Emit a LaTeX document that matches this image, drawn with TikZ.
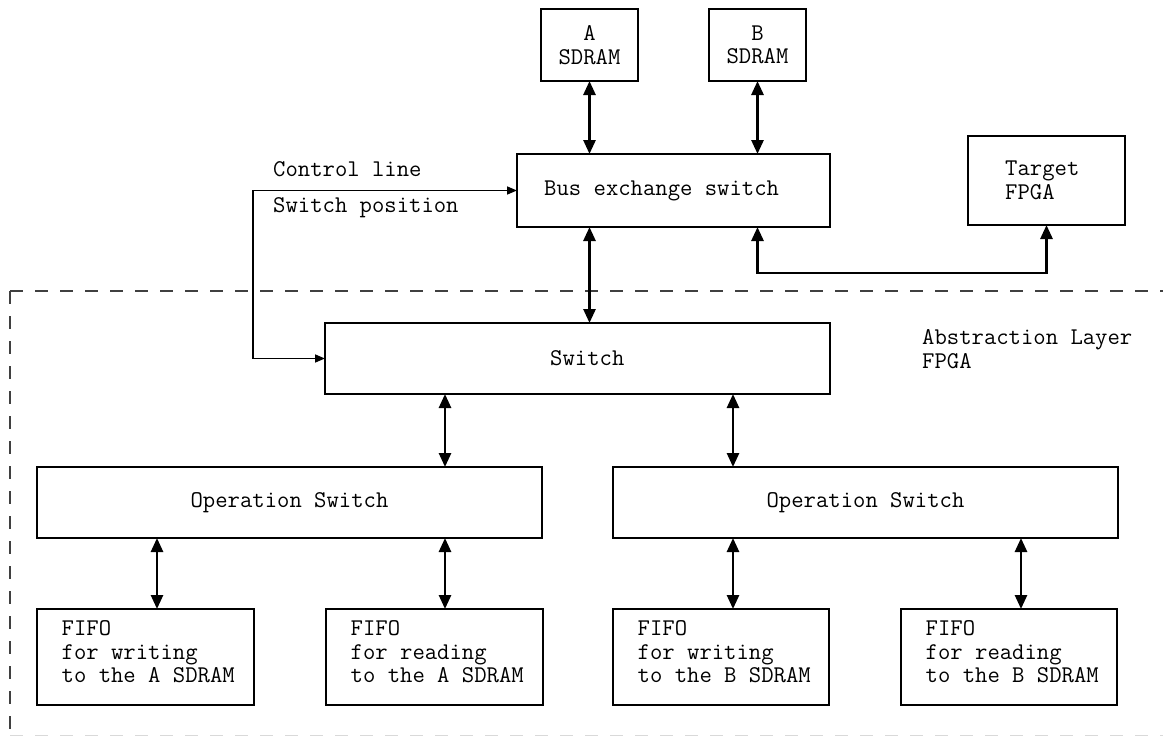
\documentclass[tikz,border=0pt]{standalone}
\usepackage{fontspec}
\usetikzlibrary{arrows.meta}
\begin{document}
\begin{tikzpicture}[x=1pt, y=-1pt,
  font=\fontsize{24}{23.5}\selectfont\ttfamily,
  blk/.style={draw=black, line width=1.3pt, inner sep=0pt, outer sep=0pt, align=center},
  intext/.style={inner sep=0pt, align=left, anchor=west},
  note/.style={inner sep=0pt},
  datalink/.style={line width=2.7pt, >={Triangle[length=14pt,width=12pt]}, <->},
  ctrllink/.style={line width=1.5pt, >={Triangle[length=10pt,width=8pt]}, <->},
  frame/.style={draw=black!75, line width=1.3pt, dash pattern=on 13pt off 12pt}
]
\clip (0,0) rectangle (1163,736);

% boundary of the abstraction layer FPGA
\draw[frame] (10,291) -- (1175,291);
\draw[frame] (10,291) -- (10,736);
\draw[frame, draw=black!15] (10,735.9) -- (1175,735.9);

% memories and the bus exchange switch
\node[blk, minimum width=97, minimum height=72] (asd) at (589.5,45) {A\\SDRAM};
\node[blk, minimum width=97, minimum height=72] (bsd) at (757.5,45) {B\\SDRAM};
\node[blk, minimum width=313, minimum height=73,
      label={[intext, xshift=27pt]west:Bus exchange switch}] (bus) at (673.5,190.5) {};
\node[blk, minimum width=157, minimum height=89,
      label={[intext, xshift=37pt]west:{Target\\FPGA}}] (tgt) at (1046.5,180.5) {};

% inside the abstraction layer
\node[blk, minimum width=505, minimum height=71,
      label={[intext, xshift=225pt]west:Switch}] (sw) at (577.5,358.5) {};
\node[blk, minimum width=505, minimum height=71] (opa) at (289.5,502.5) {Operation Switch};
\node[blk, minimum width=505, minimum height=71] (opb) at (865.5,502.5) {Operation Switch};

\node[blk, minimum width=217, minimum height=96,
      label={[intext, xshift=24.5pt, yshift=5pt]west:{FIFO\\for writing\\to the A SDRAM}}] (fwa) at (145.5,657) {};
\node[blk, minimum width=217, minimum height=96,
      label={[intext, xshift=24.5pt, yshift=5pt]west:{FIFO\\for reading\\to the A SDRAM}}] (fra) at (434.5,657) {};
\node[blk, minimum width=216, minimum height=96,
      label={[intext, xshift=24.5pt, yshift=5pt]west:{FIFO\\for writing\\to the B SDRAM}}] (fwb) at (721,657) {};
\node[blk, minimum width=216, minimum height=96,
      label={[intext, xshift=24.5pt, yshift=5pt]west:{FIFO\\for reading\\to the B SDRAM}}] (frb) at (1009,657) {};

% free texts
\node[note, anchor=base west] (ctl) at (273,176.5) {Control line};
\node[note, anchor=base west] (pos) at (273,212.5) {Switch position};
\node[note, anchor=north west, align=left] (layer) at (922,329.5) {Abstraction Layer\\FPGA};

% columns of the vertical links
\coordinate (k1) at (157,0);
\coordinate (k2) at (445,0);
\coordinate (k3) at (733,0);
\coordinate (k4) at (1021,0);
\coordinate (kc) at (253,0);

% data links
\draw[datalink] (asd.south) -- (asd.south |- bus.north);
\draw[datalink] (bsd.south) -- (bsd.south |- bus.north);
\draw[datalink] (bus.south -| asd.south) -- (sw.north -| asd.south);
\draw[datalink] (bus.south -| bsd.south) -- ++(0,46) -| (tgt.south);
\draw[datalink] (sw.south -| k2) -- (opa.north -| k2);
\draw[datalink] (sw.south -| k3) -- (opb.north -| k3);
\draw[datalink] (opa.south -| k1) -- (fwa.north -| k1);
\draw[datalink] (opa.south -| k2) -- (fra.north -| k2);
\draw[datalink] (opb.south -| k3) -- (fwb.north -| k3);
\draw[datalink] (opb.south -| k4) -- (frb.north -| k4);

% control line
\draw[ctrllink] (bus.west) -- (bus.west -| kc) |- (sw.west);
\end{tikzpicture}
\end{document}
